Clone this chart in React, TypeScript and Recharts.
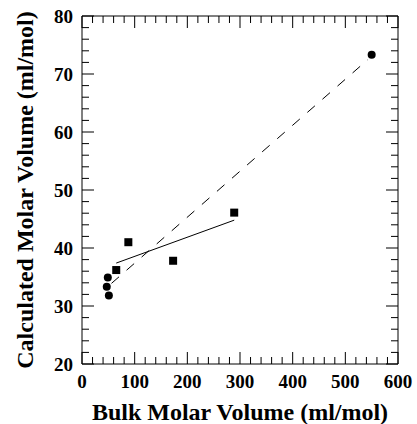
import { ScatterChart, Scatter, XAxis, YAxis, Label, ReferenceLine } from 'recharts';

// measured points
const circleX = [49, 47, 51, 550];
const circleY = [34.9, 33.3, 31.8, 73.3];
const squareX = [65, 88, 173, 289];
const squareY = [36.2, 41.0, 37.8, 46.1];

// fitted lines (end points)
const solidFitX = [65, 289];
const solidFitY = [37.4, 44.8];
const dashedFitX = [56, 543];
const dashedFitY = [33.9, 72.5];

// axis ticks
const xMajor = [0, 100, 200, 300, 400, 500, 600];
const xMinor = [20, 40, 60, 80, 120, 140, 160, 180, 220, 240, 260, 280, 320, 340, 360, 380, 420, 440, 460, 480, 520, 540, 560, 580];
const yMajor = [20, 30, 40, 50, 60, 70, 80];
const yMinor = [22, 24, 26, 28, 32, 34, 36, 38, 42, 44, 46, 48, 52, 54, 56, 58, 62, 64, 66, 68, 72, 74, 76, 78];

const X_MIN = 0;
const X_MAX = 600;
const Y_MIN = 20;
const Y_MAX = 80;

const xTicks = [...xMajor, ...xMinor].sort((a, b) => a - b);
const yTicks = [...yMajor, ...yMinor].sort((a, b) => a - b);

const toPoints = (xs: number[], ys: number[]) => xs.map((x, i) => ({ x, y: ys[i] }));

// inward tick marks sitting on the frame, placed through the chart's scales
const leftMarks = yTicks.map((y) => ({ x: X_MIN, y }));
const rightMarks = yTicks.map((y) => ({ x: X_MAX, y }));
const bottomMarks = xTicks.map((x) => ({ x, y: Y_MIN }));
const topMarks = xTicks.map((x) => ({ x, y: Y_MAX }));

const FONT = '"Liberation Serif", "Times New Roman", serif';
const MAJOR_LEN = 12;
const MINOR_LEN = 7;
const INK = '#000';

const labelStyle = { fontFamily: FONT, fontWeight: 700, fontSize: 19, fill: INK } as const;
const titleStyle = { fontFamily: FONT, fontWeight: 700, fontSize: 24, fill: INK } as const;

const yLen = (p: any) => (yMajor.includes(p?.y) ? MAJOR_LEN : MINOR_LEN);
const xLen = (p: any) => (xMajor.includes(p?.x) ? MAJOR_LEN : MINOR_LEN);

// tick marks drawn as 1px rects
function LeftMark({ cx, cy, payload }: any) {
  return <rect x={cx} y={cy - 0.5} width={yLen(payload)} height={1} fill={INK} />;
}
function RightMark({ cx, cy, payload }: any) {
  const len = yLen(payload);
  return <rect x={cx - len} y={cy - 0.5} width={len} height={1} fill={INK} />;
}
function BottomMark({ cx, cy, payload }: any) {
  const len = xLen(payload);
  return <rect x={cx - 0.5} y={cy - len} width={1} height={len} fill={INK} />;
}
function TopMark({ cx, cy, payload }: any) {
  return <rect x={cx - 0.5} y={cy} width={1} height={xLen(payload)} fill={INK} />;
}

function LeftTick(props: any) {
  const x = Number(props.x);
  const y = Number(props.y);
  return (
    <text x={x - 9} y={y + 6.5} textAnchor="end" style={labelStyle}>
      {props.payload.value}
    </text>
  );
}

function BottomTick(props: any) {
  const x = Number(props.x);
  const y = Number(props.y);
  return (
    <text x={x} y={y + 24} textAnchor="middle" style={labelStyle}>
      {props.payload.value}
    </text>
  );
}

function Square({ cx, cy }: any) {
  return <rect x={cx - 4} y={cy - 4} width={8} height={8} fill={INK} />;
}

function Dot({ cx, cy }: any) {
  return <circle cx={cx} cy={cy} r={4} fill={INK} />;
}

export default function App() {
  return (
    <div style={{ position: 'absolute', left: 0, top: 0 }}>
      <ScatterChart width={417} height={424} margin={{ top: 0, right: 0, bottom: 0, left: 0 }}>
        <XAxis
          xAxisId="b"
          type="number"
          dataKey="x"
          domain={[X_MIN, X_MAX]}
          ticks={xMajor}
          interval={0}
          tickSize={0}
          tickMargin={0}
          tickLine={false}
          tick={<BottomTick />}
          axisLine={{ stroke: INK }}
          height={60}
        >
          <Label
            content={({ viewBox }: any) => (
              <text x={viewBox.x + viewBox.width / 2} y={viewBox.y + 56} textAnchor="middle" style={titleStyle}>
                Bulk Molar Volume (ml/mol)
              </text>
            )}
          />
        </XAxis>
        <XAxis
          xAxisId="t"
          orientation="top"
          type="number"
          dataKey="x"
          domain={[X_MIN, X_MAX]}
          tick={false}
          tickLine={false}
          axisLine={{ stroke: INK }}
          height={16}
        />
        <YAxis
          yAxisId="l"
          type="number"
          dataKey="y"
          domain={[Y_MIN, Y_MAX]}
          ticks={yMajor}
          interval={0}
          tickSize={0}
          tickMargin={0}
          tickLine={false}
          tick={<LeftTick />}
          axisLine={{ stroke: INK }}
          width={82}
        >
          <Label
            content={({ viewBox }: any) => {
              const cx = viewBox.x + 33;
              const cy = viewBox.y + viewBox.height / 2;
              return (
                <text x={cx} y={cy} textAnchor="middle" transform={`rotate(-90 ${cx} ${cy})`} style={titleStyle}>
                  Calculated Molar Volume (ml/mol)
                </text>
              );
            }}
          />
        </YAxis>
        <YAxis
          yAxisId="r"
          orientation="right"
          type="number"
          dataKey="y"
          domain={[Y_MIN, Y_MAX]}
          tick={false}
          tickLine={false}
          axisLine={{ stroke: INK }}
          width={19}
        />
        <ReferenceLine
          xAxisId="b"
          yAxisId="l"
          segment={toPoints(dashedFitX, dashedFitY)}
          stroke={INK}
          strokeWidth={1}
          strokeDasharray="10 10"
        />
        <ReferenceLine
          xAxisId="b"
          yAxisId="l"
          segment={toPoints(solidFitX, solidFitY)}
          stroke={INK}
          strokeWidth={1}
        />
        <Scatter xAxisId="b" yAxisId="l" data={leftMarks} shape={<LeftMark />} isAnimationActive={false} />
        <Scatter xAxisId="b" yAxisId="l" data={rightMarks} shape={<RightMark />} isAnimationActive={false} />
        <Scatter xAxisId="b" yAxisId="l" data={bottomMarks} shape={<BottomMark />} isAnimationActive={false} />
        <Scatter xAxisId="b" yAxisId="l" data={topMarks} shape={<TopMark />} isAnimationActive={false} />
        <Scatter xAxisId="b" yAxisId="l" data={toPoints(circleX, circleY)} shape={<Dot />} isAnimationActive={false} />
        <Scatter xAxisId="b" yAxisId="l" data={toPoints(squareX, squareY)} shape={<Square />} isAnimationActive={false} />
      </ScatterChart>
    </div>
  );
}
